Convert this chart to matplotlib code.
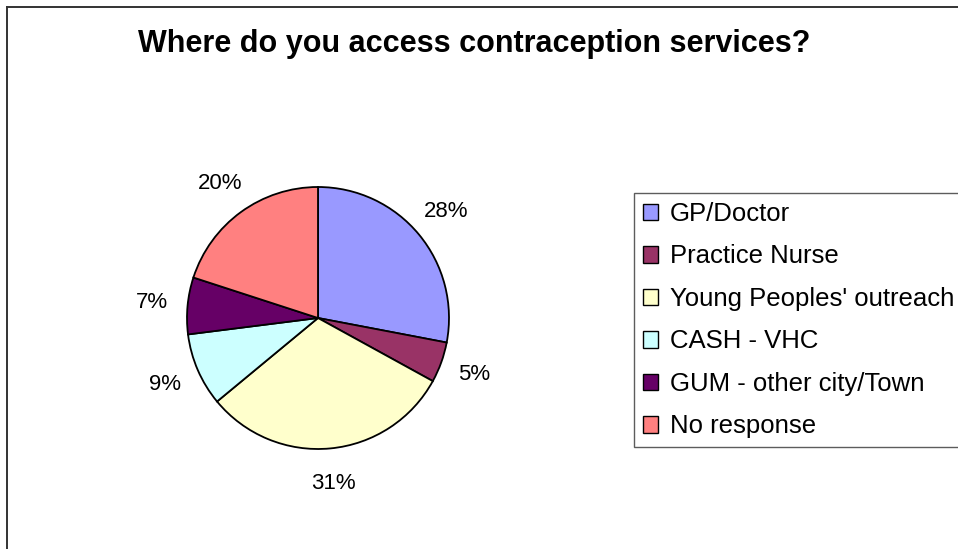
import matplotlib
matplotlib.use('Agg')

import matplotlib.pyplot as plt
from matplotlib.patches import Patch
from matplotlib.lines import Line2D

TITLE = 'Where do you access contraception services?'
sources = ['GP/Doctor', 'Practice Nurse', "Young Peoples' outreach",
           'CASH - VHC', 'GUM - other city/Town', 'No response']
percents = [28, 5, 31, 9, 7, 20]
colours = ['#9999FF', '#993366', '#FFFFCC', '#CCFFFF', '#660066', '#FF8080']

W, H = 958, 549
DPI = 100

plt.rcParams['font.family'] = ['Liberation Sans', 'DejaVu Sans']

fig = plt.figure(figsize=(W / DPI, H / DPI), dpi=DPI)
fig.patch.set_facecolor('white')

# chart-area frame: only the left and top edges fall inside the canvas
fig.add_artist(Line2D([7 / W, 7 / W], [0, 1 - 7 / H], color='#333333', lw=1.4))
fig.add_artist(Line2D([7 / W, 1], [1 - 7 / H, 1 - 7 / H], color='#333333', lw=1.4))

fig.text(474 / W, 1 - 44 / H, TITLE, ha='center', va='center',
         fontsize=22, fontweight='bold')

# pie axes, centre (318, 318) px from top-left, radius ~131 px
R = 131
cx, cy = 318, H - 318
span = 1.6
half = span * R
ax = fig.add_axes([(cx - half) / W, (cy - half) / H, 2 * half / W, 2 * half / H])

wedges, texts, autotexts = ax.pie(
    percents, colors=colours, startangle=90, counterclock=False,
    autopct='%.0f%%', pctdistance=1.27,
    wedgeprops=dict(edgecolor='black', linewidth=1.3),
    textprops=dict(fontsize=16))

ax.set_xlim(-span, span)
ax.set_ylim(-span, span)
ax.set_aspect('equal')
ax.axis('off')

handles = [Patch(facecolor=c, edgecolor='black', linewidth=1.0) for c in colours]
leg = fig.legend(handles, sources, loc='upper left',
                 bbox_to_anchor=(634 / W, 1 - 193 / H),
                 fontsize=18.5, frameon=True, fancybox=False,
                 edgecolor='#333333', borderpad=0.35, labelspacing=0.72,
                 handlelength=0.6, handleheight=0.6, handletextpad=0.45,
                 borderaxespad=0)
leg.get_frame().set_linewidth(1.0)

fig.savefig('out.png', dpi=DPI)
